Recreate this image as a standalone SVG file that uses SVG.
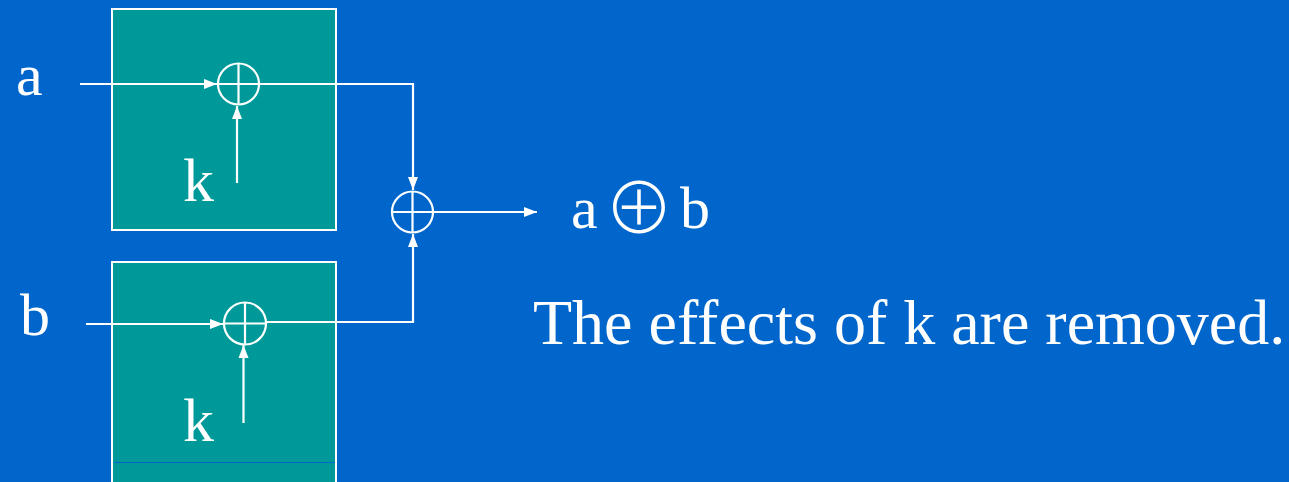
<svg xmlns="http://www.w3.org/2000/svg" width="1289" height="482" viewBox="0 0 1289 482">
<style>
.box{fill:#009999;stroke:#ffffff;stroke-width:2}
.xor{fill:none;stroke:#ffffff;stroke-width:2.2}
.ln{fill:none;stroke:#ffffff;stroke-width:2.2}
.t{fill:#ffffff;font-family:'Liberation Serif','Times New Roman',serif}
</style>
<defs>
<marker id="ah" markerWidth="14" markerHeight="12" refX="13" refY="6" orient="auto" markerUnits="userSpaceOnUse">
<path d="M0,1 L13,6 L0,11 Z" fill="#ffffff"/>
</marker>
</defs>
<rect x="0" y="0" width="1289" height="482" fill="#0066CC"/>
<g id="box-a"><rect class="box" x="112" y="9" width="224" height="221"/></g>
<g id="box-b"><rect class="box" x="112" y="262" width="224" height="240"/>
<line x1="114" y1="462.5" x2="335" y2="462.5" stroke="#0066CC" stroke-width="1"/></g>
<g id="xor1"><circle class="xor" cx="238.5" cy="84" r="20.5"/><path class="xor" d="M218,84 H259 M238.5,63.5 V104.5"/></g>
<g id="xor2"><circle class="xor" cx="245" cy="323.5" r="21"/><path class="xor" d="M224,323.5 H266 M245,302.5 V344.5"/></g>
<g id="xor3"><circle class="xor" cx="412.5" cy="212" r="20.5"/><path class="xor" d="M392,212 H433 M412.5,191.5 V232.5"/></g>
<g id="label-a"><text class="t" x="16" y="95" font-size="60">a</text></g>
<g id="label-b"><text class="t" x="20" y="335" font-size="60">b</text></g>
<g id="label-k1"><text class="t" x="183" y="201" font-size="62">k</text></g>
<g id="label-k2"><text class="t" x="183" y="441" font-size="62">k</text></g>
<g id="label-out"><text class="t" font-size="60"><tspan x="571" y="228">a</tspan><tspan x="604" y="234" font-family="Noto Sans CJK SC" font-weight="300" font-size="70">⊕</tspan><tspan x="680" y="228">b</tspan></text></g>
<g id="caption"><text class="t" x="533" y="344" font-size="64">The effects of k are removed.</text></g>
<g id="connectors">
<line class="ln" x1="80" y1="84" x2="217" y2="84" marker-end="url(#ah)"/>
<line class="ln" x1="237" y1="183" x2="237" y2="106" marker-end="url(#ah)"/>
<polyline class="ln" points="259,84 413,84 413,190" marker-end="url(#ah)"/>
<line class="ln" x1="86" y1="324" x2="223" y2="324" marker-end="url(#ah)"/>
<line class="ln" x1="243.5" y1="423" x2="243.5" y2="345" marker-end="url(#ah)"/>
<polyline class="ln" points="266,322 413,322 413,234" marker-end="url(#ah)"/>
<line class="ln" x1="433" y1="212" x2="537" y2="212" marker-end="url(#ah)"/>
</g>
</svg>
